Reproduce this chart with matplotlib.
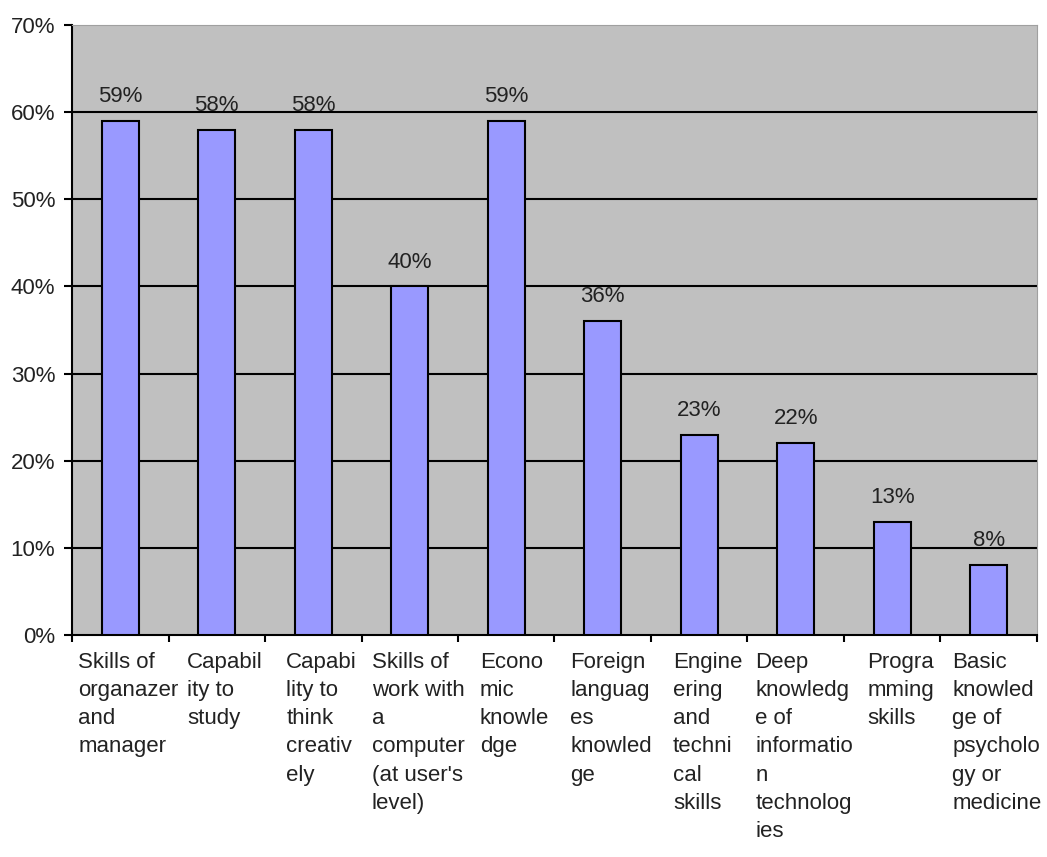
import numpy as np
import matplotlib.pyplot as plt
from matplotlib.ticker import FuncFormatter

# --- data ---
categories = [
    "Skills of\norganazer\nand\nmanager",
    "Capabil\nity to\nstudy",
    "Capabi\nlity to\nthink\ncreativ\nely",
    "Skills of\nwork with\na\ncomputer\n(at user's\nlevel)",
    "Econo\nmic\nknowle\ndge",
    "Foreign\nlanguag\nes\nknowled\nge",
    "Engine\nering\nand\ntechni\ncal\nskills",
    "Deep\nknowledg\ne of\ninformatio\nn\ntechnolog\nies",
    "Progra\nmming\nskills",
    "Basic\nknowled\nge of\npsycholo\ngy or\nmedicine",
]
values = [59, 58, 58, 40, 59, 36, 23, 22, 13, 8]

plt.rcParams["font.family"] = ["Liberation Sans", "DejaVu Sans"]
fs = 16

# --- visualise ---
fig = plt.figure(figsize=(10.47, 8.57), dpi=100)
ax = fig.add_axes([0.0688, 0.259, 0.9216, 0.7118])
ax.set_facecolor("#C0C0C0")

x = np.arange(len(values))
ax.bar(x, values, width=0.38, color="#9999FF", edgecolor="black",
       linewidth=1.5, zorder=3)

for xi, v in zip(x, values):
    ax.annotate(f"{v}%", (xi, v), xytext=(0, 10), textcoords="offset points",
                ha="center", va="bottom", fontsize=fs, color="#222222", zorder=4)

ax.set_xlim(-0.5, len(values) - 0.5)
ax.set_ylim(0, 70)
ax.set_yticks(np.arange(0, 71, 10))
ax.yaxis.set_major_formatter(FuncFormatter(lambda y, p: f"{int(y)}%"))
ax.tick_params(axis="y", labelsize=fs, labelcolor="#222222", length=6, width=1.5, pad=6)

# category boundary ticks, labels drawn as text
ax.set_xticks(np.arange(-0.5, len(values), 1.0))
ax.set_xticklabels([])
ax.tick_params(axis="x", length=5, width=1.5)
for xi, lab in zip(x, categories):
    ax.annotate(lab, (xi, 0), xytext=(6, -12), textcoords="offset points",
                ha="center", va="top", multialignment="left", color="#222222",
                fontsize=fs, linespacing=1.45, annotation_clip=False)

for y in range(10, 70, 10):
    ax.axhline(y, color="black", linewidth=1.5, zorder=2)

ax.spines["left"].set_linewidth(1.5)
ax.spines["bottom"].set_linewidth(1.5)
ax.spines["top"].set_color("#A0A0A0")
ax.spines["right"].set_color("#A0A0A0")

fig.savefig("out.png", dpi=100)
